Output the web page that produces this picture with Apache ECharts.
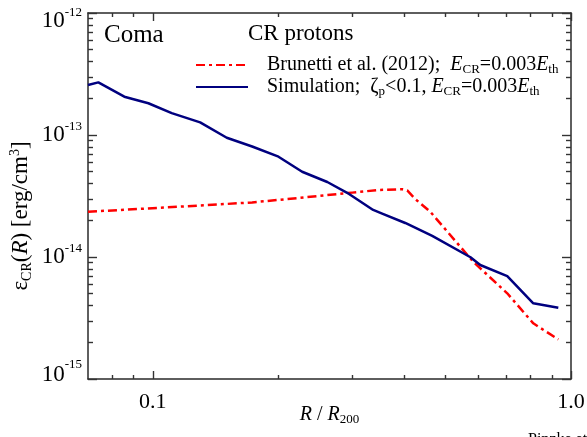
<!DOCTYPE html>
<html><head><meta charset="utf-8">
<script src="https://cdn.jsdelivr.net/npm/echarts@6/dist/echarts.min.js"></script>
<style>html,body{margin:0;padding:0;background:#fff}#c{width:587px;height:437px}</style>
</head><body><div id="c"></div>
<script>
// ---- data ----
const radiusBrunetti = [0.0700, 0.1195, 0.1728, 0.2486, 0.2997, 0.3459, 0.3949, 0.4059, 0.4246, 0.4608, 0.5837, 0.7040, 0.8125, 0.9325];
const energyBrunetti = [2.35e-14, 2.60e-14, 2.80e-14, 3.16e-14, 3.37e-14, 3.54e-14, 3.59e-14, 3.51e-14, 2.98e-14, 2.35e-14, 9.14e-15, 5.04e-15, 2.86e-15, 2.11e-15];
const radiusSim = [0.0700, 0.0741, 0.0855, 0.0976, 0.1110, 0.1298, 0.1503, 0.1728, 0.1998, 0.2276, 0.2614, 0.2916, 0.3365, 0.3536, 0.4015, 0.4658, 0.5750, 0.6067, 0.7040, 0.8125, 0.9325];
const energySim = [2.57e-13, 2.70e-13, 2.06e-13, 1.82e-13, 1.51e-13, 1.27e-13, 9.50e-14, 8.05e-14, 6.64e-14, 5.00e-14, 4.12e-14, 3.36e-14, 2.43e-14, 2.27e-14, 1.90e-14, 1.49e-14, 9.95e-15, 8.60e-15, 6.98e-15, 4.17e-15, 3.84e-15];
const xMajorTicks = [0.1, 1.0];
const xMinorTicks = [0.08, 0.09, 0.2, 0.3, 0.4, 0.5, 0.6, 0.7, 0.8, 0.9];
const yMajorTicks = [1e-15, 1e-14, 1e-13, 1e-12];
const yMinorTicks = [2e-15, 3e-15, 4e-15, 5e-15, 6e-15, 7e-15, 8e-15, 9e-15,
                     2e-14, 3e-14, 4e-14, 5e-14, 6e-14, 7e-14, 8e-14, 9e-14,
                     2e-13, 3e-13, 4e-13, 5e-13, 6e-13, 7e-13, 8e-13, 9e-13];
const seriesNames = ['Brunetti', 'Simulation'];

const SERIF = 'Liberation Serif';
const AX = '#2a2a2a';

function xAxisDef(pos, ticks, len, withLabels, withLine) {
  return {
    type: 'log', logBase: 10, min: 0.07, max: 1.0, position: pos,
    axisLine: { show: withLine, lineStyle: { color: AX, width: 1.5 } },
    axisTick: { show: true, inside: true, length: len, customValues: ticks, lineStyle: { color: '#333', width: 1.4 } },
    axisLabel: withLabels ? {
      show: true, customValues: ticks, margin: 12, color: '#000',
      fontFamily: SERIF, fontSize: 22,
      formatter: v => (Math.abs(v - 1) < 1e-9 ? '1.0' : String(v))
    } : { show: false },
    splitLine: { show: false }
  };
}
function yAxisDef(pos, ticks, len, withLabels, withLine) {
  return {
    type: 'log', logBase: 10, min: 1e-15, max: 1e-12, position: pos,
    axisLine: { show: withLine, lineStyle: { color: AX, width: 1.5 } },
    axisTick: { show: true, inside: true, length: len, customValues: ticks, lineStyle: { color: '#333', width: 1.4 } },
    axisLabel: withLabels ? {
      show: true, customValues: ticks, margin: 6, color: '#000',
      formatter: v => {
        const e = Math.round(Math.log10(v));
        if (e === -12) return '{spT| }{b|10}{s|' + e + '}';
        if (e === -15) return '{spB| }{bb|10}{sb|' + e + '}';
        return '{b|10}{s|' + e + '}';
      },
      rich: {
        b: { fontFamily: SERIF, fontSize: 23, lineHeight: 22, verticalAlign: 'bottom', color: '#000' },
        s: { fontFamily: SERIF, fontSize: 13, lineHeight: 13, verticalAlign: 'bottom', padding: [0, 0, 13, 0], color: '#000' },
        bb: { fontFamily: SERIF, fontSize: 23, lineHeight: 22, verticalAlign: 'top', padding: [5, 0, 0, 0], color: '#000' },
        sb: { fontFamily: SERIF, fontSize: 13, lineHeight: 13, verticalAlign: 'top', color: '#000' },
        spT: { fontSize: 1, lineHeight: 38, verticalAlign: 'bottom' },
        spB: { fontSize: 1, lineHeight: 42, verticalAlign: 'top' }
      }
    } : { show: false },
    splitLine: { show: false }
  };
}

const xAxes = [
  xAxisDef('bottom', xMajorTicks, 8, true, true),
  xAxisDef('bottom', xMinorTicks, 4, false, false),
  xAxisDef('top', xMajorTicks, 8, false, true),
  xAxisDef('top', xMinorTicks, 4, false, false)
];
Object.assign(xAxes[0], {
  name: '{i|R}{n| / }{i|R}{sub|200}', nameLocation: 'middle', nameGap: 25, nameMoveOverlap: false,
  nameTextStyle: { rich: {
    n: { fontFamily: SERIF, fontSize: 20, lineHeight: 22, color: '#000' },
    i: { fontFamily: SERIF, fontStyle: 'italic', fontSize: 20, lineHeight: 22, color: '#000' },
    sub: { fontFamily: SERIF, fontSize: 13, lineHeight: 13, verticalAlign: 'bottom', padding: [8, 0, 0, 0], color: '#000' }
  } }
});
const yAxes = [
  yAxisDef('left', yMajorTicks, 9, true, true),
  yAxisDef('left', yMinorTicks, 5, false, false),
  yAxisDef('right', yMajorTicks, 9, false, true),
  yAxisDef('right', yMinorTicks, 5, false, false)
];
Object.assign(yAxes[0], {
  name: '{n|ε}{sub|CR}{n|(}{i|R}{n|) [erg/cm}{sup|3}{n|]}', nameLocation: 'middle', nameGap: 54, nameRotate: 90, nameMoveOverlap: false,
  nameTextStyle: { padding: [0, 40, 0, 0], rich: {
    n: { fontFamily: SERIF, fontSize: 23, lineHeight: 26, color: '#000' },
    i: { fontFamily: SERIF, fontStyle: 'italic', fontSize: 23, lineHeight: 26, color: '#000' },
    sub: { fontFamily: SERIF, fontSize: 14, lineHeight: 14, verticalAlign: 'bottom', padding: [10, 0, 0, 0], color: '#000' },
    sup: { fontFamily: SERIF, fontSize: 14, lineHeight: 14, verticalAlign: 'top', padding: [0, 0, 10, 0], color: '#000' }
  } }
});

const legendText = {
  Brunetti: '{t|Brunetti et al. (2012);  }{i|E}{sub|CR}{t|=0.003}{i|E}{sub|th}',
  Simulation: '{t|Simulation;  }{t|ζ}{sub|p}{t|<0.1, }{i|E}{sub|CR}{t|=0.003}{i|E}{sub|th}'
};

const chart = echarts.init(document.getElementById('c'), null, { renderer: 'canvas' });
chart.setOption({
  animation: false,
  backgroundColor: '#fff',
  grid: { left: 88, right: 16, top: 13, bottom: 58, containLabel: false, outerBoundsMode: 'none' },
  xAxis: xAxes,
  yAxis: yAxes,
  legend: {
    orient: 'vertical', left: 195, top: 54, padding: 0,
    itemWidth: 52, itemHeight: 14, itemGap: 0,
    itemStyle: { opacity: 0 },
    data: seriesNames,
    formatter: n => legendText[n],
    textStyle: { padding: [0, 0, 0, 14], rich: {
      t: { fontFamily: SERIF, fontSize: 20, lineHeight: 22, color: '#000' },
      i: { fontFamily: SERIF, fontStyle: 'italic', fontSize: 20, lineHeight: 22, color: '#000' },
      sub: { fontFamily: SERIF, fontSize: 13, lineHeight: 13, verticalAlign: 'bottom', padding: [9, 0, 0, 0], color: '#000' }
    } }
  },
  graphic: [
    { type: 'text', left: 104, top: 23, style: { text: 'Coma', font: '25px "Liberation Serif"', fill: '#000' } },
    { type: 'text', left: 248, top: 22, style: { text: 'CR protons', font: '23px "Liberation Serif"', fill: '#000' } },
    { type: 'text', left: 528, top: 432, style: { text: 'Pinzke et al.', font: '16px "Liberation Serif"', fill: '#000' } }
  ],
  series: [
    {
      name: seriesNames[0], type: 'line', xAxisIndex: 0, yAxisIndex: 0,
      data: radiusBrunetti.map((r, i) => [r, energyBrunetti[i]]),
      showSymbol: false, symbol: 'none', color: '#ff0000',
      lineStyle: { color: '#ff0000', width: 2.5, type: [9, 4, 3, 4] }
    },
    {
      name: seriesNames[1], type: 'line', xAxisIndex: 0, yAxisIndex: 0,
      data: radiusSim.map((r, i) => [r, energySim[i]]),
      showSymbol: false, symbol: 'none', color: '#00007f',
      lineStyle: { color: '#00007f', width: 2.5 }
    }
  ]
});
</script>
</body></html>
